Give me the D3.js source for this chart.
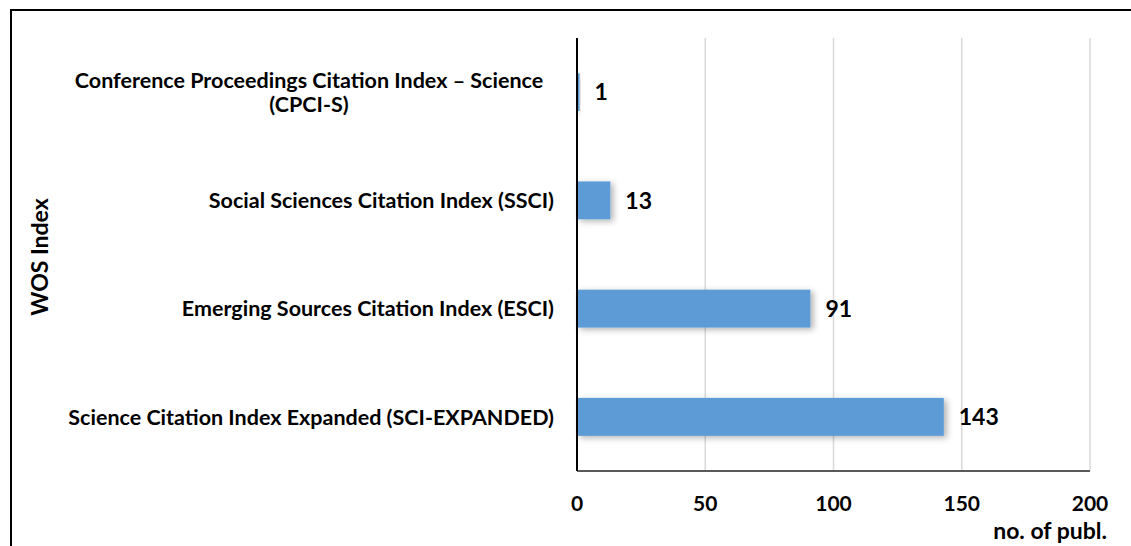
<!DOCTYPE html>
<meta charset="utf-8">
<title>WOS Index</title>
<script src="https://d3js.org/d3.v7.min.js"></script>
<style>
  body { margin: 0; background: #fff; }
  text { font-family: Lato, "Open Sans", sans-serif; font-weight: bold; fill: #000; }
</style>
<div id="chart"></div>
<script>
  // data
  const categories = [
    "Conference Proceedings Citation Index \u2013 Science|(CPCI-S)",
    "Social Sciences Citation Index (SSCI)",
    "Emerging Sources Citation Index (ESCI)",
    "Science Citation Index Expanded (SCI-EXPANDED)"
  ];
  const counts = [1, 13, 91, 143];
  const xTicks = [0, 50, 100, 150, 200];

  const W = 1131, H = 546;
  const margin = { top: 38, left: 577 };
  const width = 1090 - margin.left,
    height = 471 - margin.top;

  const svg = d3.select("#chart").append("svg")
    .attr("width", W)
    .attr("height", H);

  // soft shadow under the bars
  const f = svg.append("defs").append("filter")
    .attr("id", "shadow")
    .attr("x", "-20%").attr("y", "-40%")
    .attr("width", "150%").attr("height", "190%");
  f.append("feDropShadow")
    .attr("dx", 3).attr("dy", 2)
    .attr("stdDeviation", 3)
    .attr("flood-color", "#000")
    .attr("flood-opacity", 0.3);

  // outer frame (runs off right and bottom edges)
  svg.append("rect")
    .attr("x", 11).attr("y", 10)
    .attr("width", 1200).attr("height", 600)
    .attr("fill", "none")
    .attr("stroke", "#000")
    .attr("stroke-width", 2);

  const g = svg.append("g")
    .attr("transform", `translate(${margin.left},${margin.top})`);

  const x = d3.scaleLinear().domain([0, 200]).range([0, width]);
  const y = d3.scaleBand().domain(categories).range([0, height])
    .paddingInner(0.65).paddingOuter(0.325);

  // gridlines
  g.selectAll(".grid")
    .data(xTicks.slice(1))
    .join("line")
    .attr("x1", d => x(d)).attr("x2", d => x(d))
    .attr("y1", 0).attr("y2", height)
    .attr("stroke", "#d9d9d9")
    .attr("stroke-width", 1.5);

  // bars
  g.selectAll(".bar")
    .data(counts)
    .join("rect")
    .attr("class", "bar")
    .attr("x", 0)
    .attr("y", (d, i) => y(categories[i]))
    .attr("width", d => x(d))
    .attr("height", y.bandwidth())
    .attr("fill", "#5b9bd5")
    .attr("filter", "url(#shadow)");

  // value labels
  g.selectAll(".val")
    .data(counts)
    .join("text")
    .attr("class", "val")
    .attr("x", d => x(d) + 15)
    .attr("y", (d, i) => y(categories[i]) + y.bandwidth() / 2)
    .attr("dy", "0.36em")
    .style("font-size", "23px")
    .text(d => d);

  // x axis line
  g.append("line")
    .attr("x1", 0).attr("x2", width)
    .attr("y1", height).attr("y2", height)
    .attr("stroke", "#595959")
    .attr("stroke-width", 2);

  // y axis line
  g.append("line")
    .attr("x1", 0).attr("x2", 0)
    .attr("y1", 0).attr("y2", height)
    .attr("stroke", "#000")
    .attr("stroke-width", 2);

  // x tick labels
  g.selectAll(".xt")
    .data(xTicks)
    .join("text")
    .attr("class", "xt")
    .attr("x", d => x(d))
    .attr("y", height + 32)
    .attr("dy", "0.36em")
    .attr("text-anchor", "middle")
    .style("font-size", "21px")
    .text(d => d);

  // category labels
  g.selectAll(".cat")
    .data(categories)
    .join("text")
    .attr("class", "cat")
    .style("font-size", "21.5px")
    .each(function (d) {
      const lines = d.split("|");
      const t = d3.select(this);
      const cy = y(d) + y.bandwidth() / 2;
      if (lines.length === 1) {
        t.attr("x", -23).attr("y", cy).attr("dy", "0.36em")
          .attr("text-anchor", "end").text(d);
      } else {
        t.attr("text-anchor", "middle");
        lines.forEach((l, k) => {
          t.append("tspan")
            .attr("x", -268)
            .attr("y", cy + (k - 0.5) * 24)
            .attr("dy", "0.36em")
            .text(l);
        });
      }
    });

  // axis titles
  svg.append("text")
    .attr("x", 1107).attr("y", 531)
    .attr("dy", "0.36em")
    .attr("text-anchor", "end")
    .style("font-size", "23px")
    .text("no. of publ.");

  svg.append("text")
    .attr("transform", "translate(40,257) rotate(-90)")
    .attr("dy", "0.36em")
    .attr("text-anchor", "middle")
    .style("font-size", "23px")
    .text("WOS Index");
</script>
